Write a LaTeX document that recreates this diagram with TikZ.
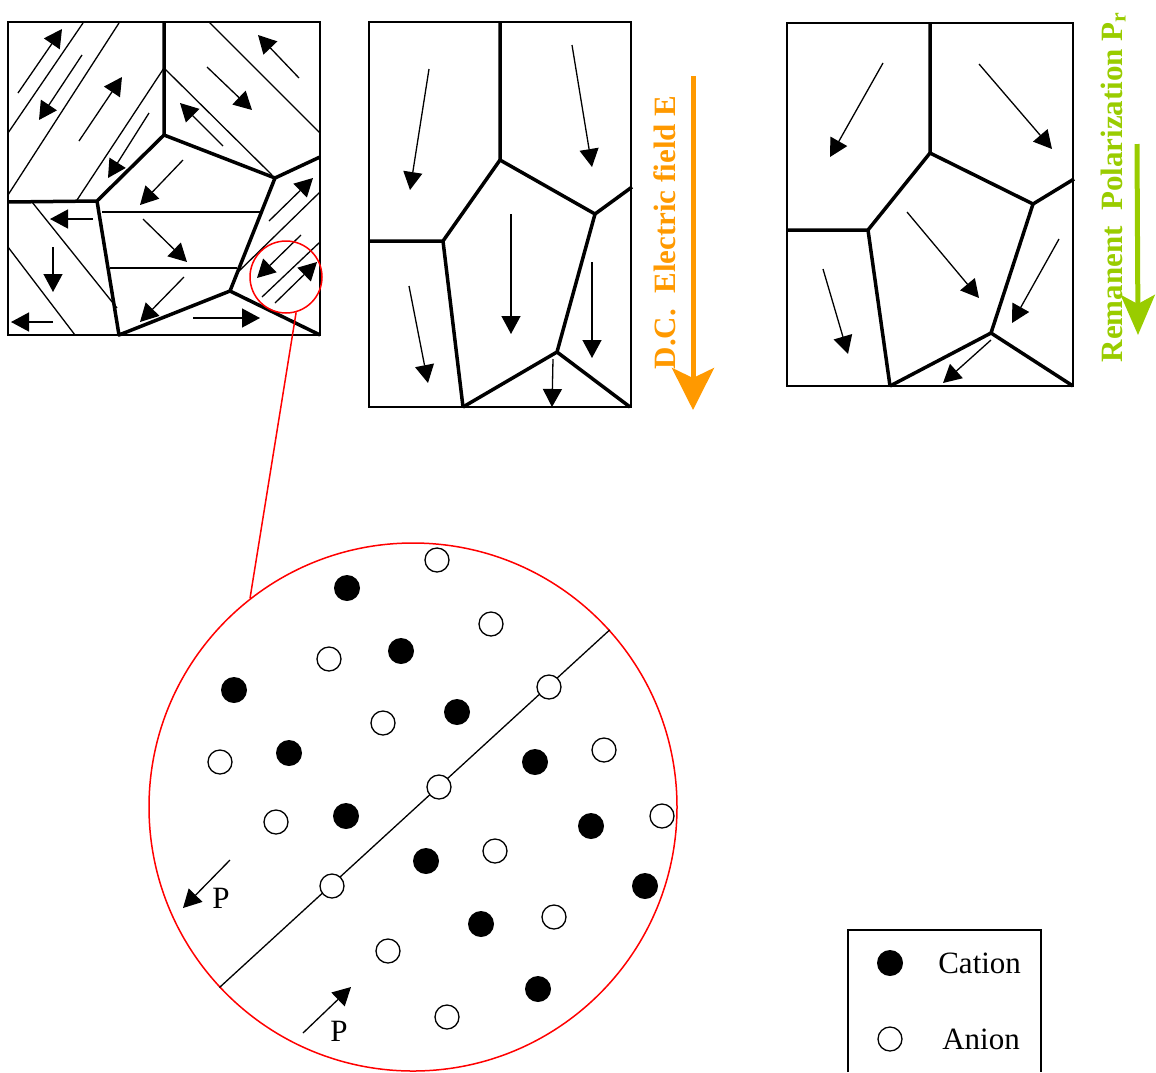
\documentclass[tikz,border=0pt]{standalone}
\usepackage{fontspec}
\setmainfont{Liberation Serif}
\usetikzlibrary{arrows.meta, positioning}

\definecolor{fieldorange}{RGB}{255,153,0}
\definecolor{polgreen}{RGB}{153,204,0}

\begin{document}
\begin{tikzpicture}[
        x = 1pt, y = -1pt, line width = 1.3pt,
        >= {Triangle[length = 18pt, width = 19pt]},
        grain/.style = {line width = 3.5pt, line join = round},
        frame/.style = {line width = 1.5pt},
        field/.style = {line width = 5pt},
        cation/.style = {circle, fill = black, inner sep = 0pt, minimum size = 26pt},
        anion/.style = {circle, draw = black, fill = white, line width = 1.3pt,
                        inner sep = 0pt, minimum size = 24pt},
        ionname/.style = {font = \fontsize{31}{36}\selectfont, inner sep = 0pt},
        tag/.style = {font = \fontsize{31}{36}\selectfont\bfseries, inner sep = 0pt,
                      rotate = 90, anchor = base west}
    ]
      \useasboundingbox (0,0) rectangle (1156,1072);

      % unpoled ceramic: grains split into domains
      \draw[frame] (8,22) rectangle (320,335);
      \draw (8,133) -- (83,23);
      \draw (8,195) -- (119,23);
      \draw (77,200) -- (164,68);
      \draw (209,22) -- (320,133);
      \draw (164,68) -- (272,175);
      \draw (102,212) -- (260,212);
      \draw (110,268) -- (237,268);
      \draw (32,202) -- (117,308);
      \draw (8,247) -- (75,335);
      \draw (320,192) -- (237,273);
      \draw (320,242) -- (262,297);

      \draw[->] (18,93) -- (62,29);
      \draw[->] (82,55) -- (39,120);
      \draw[->] (79,141) -- (122,77);
      \draw[->] (149,113) -- (108,178);
      \draw[->] (299,78) -- (258,35);
      \draw[->] (207,67) -- (252,110);
      \draw[->] (223,146) -- (180,103);
      \draw[->] (183,160) -- (140,205);
      \draw[->] (143,219) -- (187,262);
      \draw[->] (184,277) -- (140,322);
      \draw[->] (93,219) -- (50,219);
      \draw[->] (53,247) -- (53,292);
      \draw[->] (53,322) -- (11,322);
      \draw[->] (193,318) -- (260,318);
      \draw[->] (269,221) -- (313,178);
      \draw[->] (301,235) -- (257,278);
      \draw[->] (275,303) -- (317,262);

      \draw[grain] (164,22) -- (164,135) -- (275,178) -- (320,157);
      \draw[grain] (8,202) -- (97,201) -- (164,135);
      \draw[grain] (97,201) -- (119,335) -- (230,291) -- (275,178);
      \draw[grain] (230,291) -- (320,335);

      \node[circle, draw = red, line width = 1.5pt, inner sep = 0pt,
            minimum size = 72pt] (spot) at (286,277) {};

      % under the field
      \draw[frame] (369,22) rectangle (631,407);
      \draw[grain] (500,22) -- (500,160) -- (595,214) -- (632,187);
      \draw[grain] (369,241) -- (443,241) -- (500,160);
      \draw[grain] (443,241) -- (463,407);
      \draw[grain] (595,214) -- (557,352) -- (463,407);
      \draw[grain] (557,352) -- (630,407);

      \draw[->] (429,69) -- (410,190);
      \draw[->] (572,45) -- (592,167);
      \draw[->] (511,214) -- (511,334);
      \draw[->] (409,286) -- (428,383);
      \draw[->] (592,262) -- (592,358);
      \draw[->] (553,359) -- (552,407);

      \draw[field, fieldorange, -{Stealth[length = 42pt, width = 42pt, inset = 10pt]}]
            (693,76) -- (693,410);
      \node[tag, text = fieldorange] (efield) at (675,370) {D.C.\ \ Electric field E};

      % after poling
      \draw[frame] (787,23) rectangle (1073,386);
      \draw[grain] (930,23) -- (930,153) -- (1033,204) -- (1074,179);
      \draw[grain] (787,230) -- (868,230) -- (930,153);
      \draw[grain] (868,230) -- (890,386);
      \draw[grain] (1033,204) -- (991,333) -- (890,386);
      \draw[grain] (991,333) -- (1073,386);

      \draw[->] (883,63) -- (830,157);
      \draw[->] (979,64) -- (1052,149);
      \draw[->] (907,212) -- (979,298);
      \draw[->] (823,269) -- (848,354);
      \draw[->] (1059,239) -- (1012,323);
      \draw[->] (991,340) -- (943,383);

      \draw[field, polgreen, -{Stealth[length = 40pt, width = 34pt, inset = 9pt]}]
            (1137,144) -- (1138,335);
      \node[tag, text = polgreen] (remanent) at (1122,363)
            {Remanent\ \ Polarization P\textsubscript{r}};

      % close-up of a domain wall
      \node[circle, draw = red, line width = 1.5pt, inner sep = 0pt,
            minimum size = 528pt] (lens) at (413,807) {};
      \draw[red, line width = 1.5pt] (spot.-74.5) -- (lens.128.6);
      \draw (lens.223.9) -- (lens.42.2);

      \foreach \p [count = \i] in {(347,588), (401,651), (234,690), (457,712),
            (289,753), (346,816), (535,762), (591,826), (426,861), (645,886),
            (481,924), (538,989)}
        \node[cation] (cat\i) at \p {};
      \foreach \p [count = \i] in {(437,560), (491,624), (329,659), (383,723),
            (220,762), (276,822), (604,750), (662,816), (495,851), (554,917),
            (388,951), (447,1017), (549,687), (439,787), (332,886)}
        \node[anion] (an\i) at \p {};

      \draw[->] (230,860) -- (183,908);
      \node[ionname] (pup) at (221,898) {P};
      \draw[->] (303,1033) -- (351,987);
      \node[ionname] (pdown) at (339,1031) {P};

      % legend
      \draw[frame] (848,1072) -- (848,930) -- (1041,930) -- (1041,1072);
      \node[cation] (lcat) at (890,963) {};
      \node[anion] (lan) at (890,1039) {};
      \node[ionname, right = 34pt of lcat] (tcat) {Cation};
      \node[ionname, right = 39pt of lan] (tan) {Anion};
\end{tikzpicture}
\end{document}
